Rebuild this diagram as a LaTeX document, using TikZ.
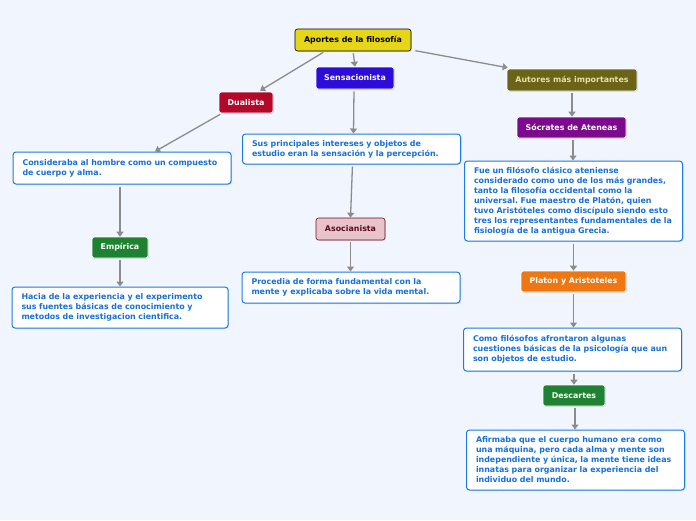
\documentclass[tikz,border=0pt]{standalone}
\usepackage{fontspec}
\setmainfont{DejaVu Sans}
\usetikzlibrary{arrows.meta,calc,shadows}
\definecolor{bg}{HTML}{F1F5FE}
\definecolor{yel}{HTML}{E6D619}
\definecolor{sensblue}{HTML}{2D0BD9}
\definecolor{dual}{HTML}{B4082A}
\definecolor{olive}{HTML}{6B6418}
\definecolor{olivetext}{HTML}{E6E0A8}
\definecolor{purp}{HTML}{7C0A8C}
\definecolor{grn}{HTML}{1F8232}
\definecolor{orng}{HTML}{EE7711}
\definecolor{pinkfill}{HTML}{E8C4CA}
\definecolor{pinkdraw}{HTML}{6E0E22}
\definecolor{pinktext}{HTML}{5C0A1C}
\definecolor{txtblue}{HTML}{1670DA}
\definecolor{bordblue}{HTML}{1B7BE4}
\definecolor{conngray}{HTML}{8C8C8C}
\frenchspacing
\begin{document}
\begin{tikzpicture}[x=1pt,y=-1pt,
  font=\bfseries\fontsize{7.9}{10}\selectfont,
  lbl/.style={rectangle, rounded corners=2.5pt, minimum height=21pt, inner xsep=4pt, inner ysep=0pt,
    text=white, draw=white, line width=0.6pt,
    drop shadow={shadow xshift=0.8pt, shadow yshift=-0.8pt, opacity=0.25}},
  txtbox/.style={rectangle, rounded corners=3pt, draw=bordblue, line width=1pt, fill=white,
    text=txtblue, text width=199pt, inner xsep=9.5pt, inner ysep=3pt, align=left,
    drop shadow={shadow xshift=1pt, shadow yshift=-1pt, opacity=0.2}},
  conn/.style={draw=conngray, line width=1.3pt, -{Triangle[length=5pt,width=7pt]}, shorten <=2pt}
]
\fill[bg] (0,0) rectangle (696,520);
\useasboundingbox (0,0) rectangle (696,520);

% labels
\node[lbl, fill=yel, draw=black, text=black, minimum width=116pt, minimum height=22pt] (apo) at (353,40) {Aportes de la filosofía};
\node[lbl, fill=sensblue, minimum width=78pt, minimum height=22pt] (sen) at (355,78) {Sensacionista};
\node[lbl, fill=dual, minimum width=54pt] (dua) at (246,102.5) {Dualista};
\node[lbl, fill=olive, text=olivetext, minimum width=130pt, minimum height=22pt] (aut) at (572,80) {Autores más importantes};
\node[lbl, fill=purp, minimum width=109pt] (soc) at (571.5,127.5) {Sócrates de Ateneas};
\node[lbl, fill=grn, minimum width=56pt] (emp) at (120,247.5) {Empírica};
\node[lbl, fill=pinkfill, draw=pinkdraw, text=pinktext, minimum width=69pt, minimum height=22pt] (aso) at (350.5,229) {Asocianista};
\node[lbl, fill=orng, minimum width=105pt] (pla) at (573.5,281.5) {Platon y Aristoteles};
\node[lbl, fill=grn, minimum width=62pt] (des) at (574,395.5) {Descartes};

% text boxes
\node[txtbox, minimum height=32pt] (con) at (122,168) {Consideraba al hombre como un compuesto\\de cuerpo y alma.};
\node[txtbox, minimum height=41pt, text width=197pt] (hac) at (120,307.5) {Hacia de la experiencia y el experimento\\sus fuentes básicas de conocimiento y\\metodos de  investigacion cientifica.};
\node[txtbox, minimum height=30pt] (sus) at (351.5,149) {Sus principales intereses y objetos de\\estudio eran la sensación y la percepción.};
\node[txtbox, minimum height=31pt] (pro) at (351,287.5) {Procedia de forma fundamental con la\\mente y explicaba sobre la vida mental.};
\node[txtbox, minimum height=80pt] (fue) at (573.5,201) {Fue un filósofo clásico ateniense\\considerado como uno de los más grandes,\\tanto la filosofía occidental como la\\universal. Fue maestro de Platón, quien\\tuvo Aristóteles como discípulo siendo esto\\tres los representantes fundamentales de la\\fisiología de la antigua Grecia.};
\node[txtbox, minimum height=43pt] (com) at (572.5,349.5) {Como filósofos afrontaron algunas\\cuestiones básicas de la psicología que aun\\son objetos de estudio.};
\node[txtbox, minimum height=60pt] (afi) at (575.5,460) {Afirmaba que el cuerpo humano era como\\una máquina, pero cada alma y mente son\\independiente y única, la mente tiene ideas\\innatas para organizar la experiencia del\\individuo del mundo.};

% connectors
\draw[conn] ($(apo.south)+(-28,0)$) -- ($(dua.north)+(14,-1)$);
\draw[conn] (apo.south) -- (sen.north);
\draw[conn] ($(apo.south east)+(2,-1)$) -- ($(aut.north west)+(1,-1)$);
\draw[conn] ($(dua.south)+(-24,0)$) -- ($(con.north)+(33,0)$);
\draw[conn] (con.south -| emp.north) -- (emp.north);
\draw[conn] (emp.south) -- (hac.north -| emp.south);
\draw[conn] ($(sen.south)+(-1,0)$) -- ($(sus.north)+(2,0)$);
\draw[conn] ($(sus.south)+(1,0)$) -- (aso.north);
\draw[conn] (aso.south) -- (pro.north -| aso.south);
\draw[conn] (aut.south) -- (soc.north -| aut.south);
\draw[conn] ($(soc.south)+(1.5,0)$) -- (fue.north -| {$(soc.south)+(1.5,0)$});
\draw[conn] (fue.south -| pla.north) -- (pla.north);
\draw[conn] (pla.south) -- (com.north -| pla.south);
\draw[conn] (com.south -| des.north) -- (des.north);
\draw[conn] ($(des.south)+(1,0)$) -- (afi.north -| {$(des.south)+(1,0)$});
\end{tikzpicture}
\end{document}
